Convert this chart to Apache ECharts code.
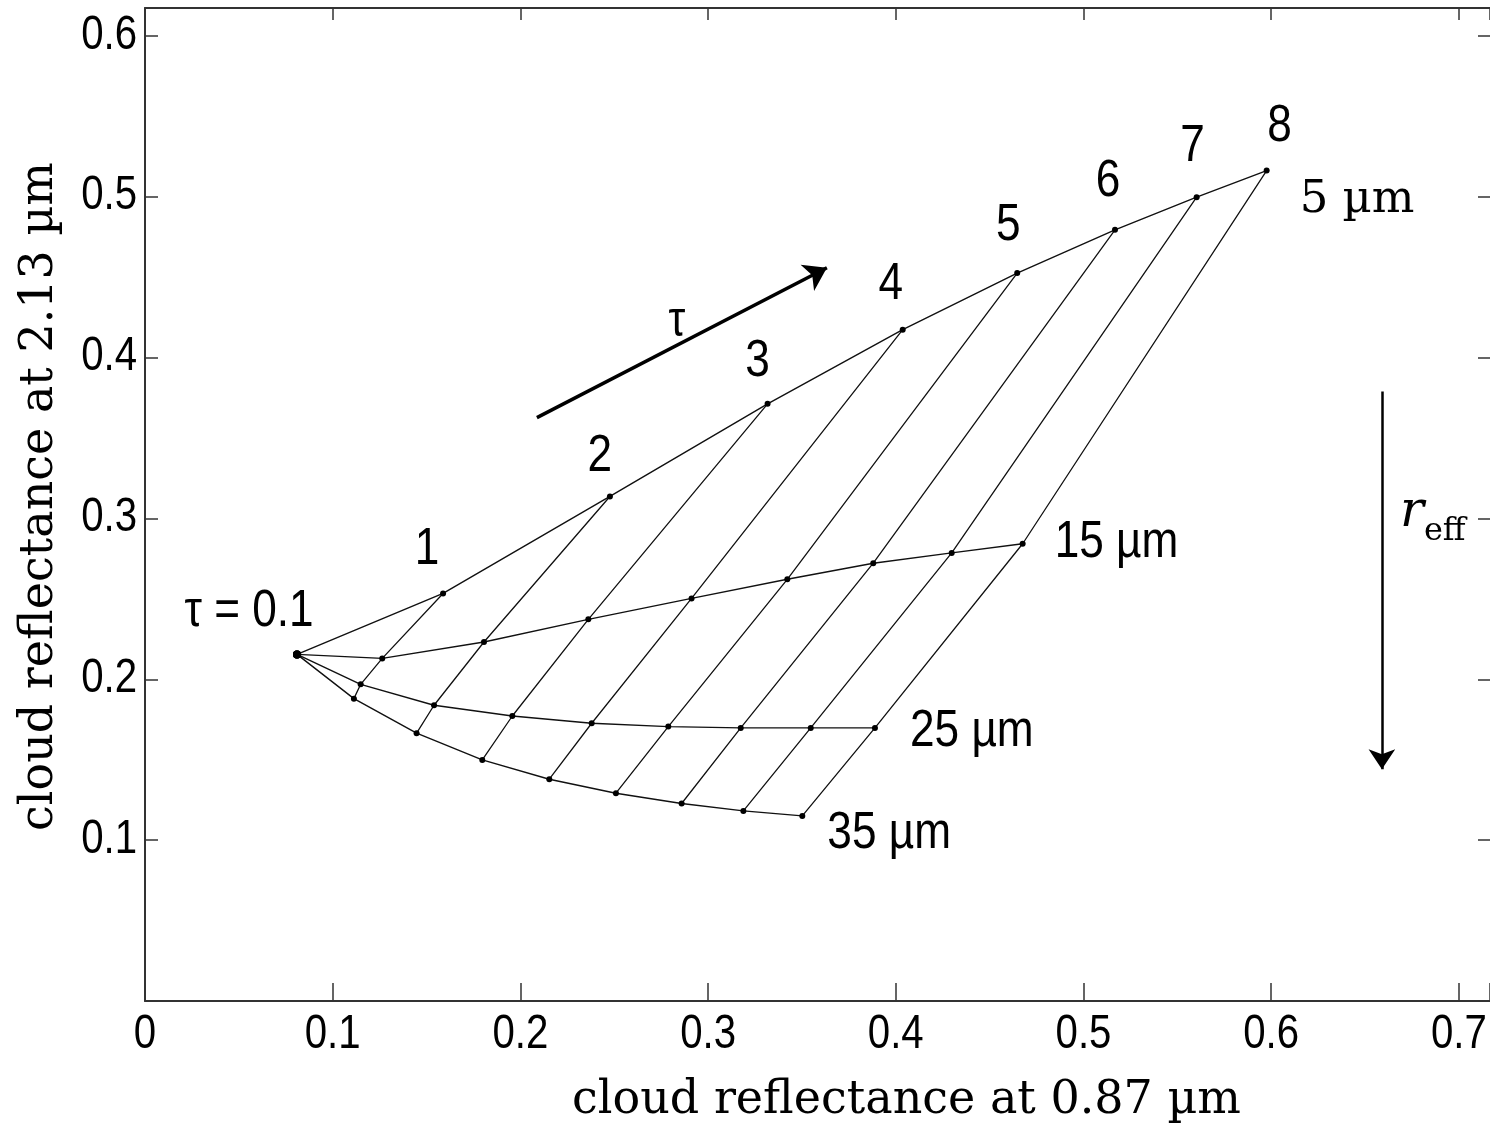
<!DOCTYPE html>
<html>
<head>
<meta charset="utf-8">
<script src="https://cdn.jsdelivr.net/npm/echarts@6/dist/echarts.min.js"></script>
<style>
  html, body { margin: 0; padding: 0; background: #fff; }
  #chart { width: 1490px; height: 1129px; }
</style>
</head>
<body>
<div id="chart"></div>
<script>
// Optical thickness values along each curve and effective radii (µm)
const tau = [0.1, 1, 2, 3, 4, 5, 6, 7, 8];
const reff = [5, 15, 25, 35];

// Cloud reflectance at 0.87 µm (x) and 2.13 µm (y) for each effective radius
const r087_5  = [0.081, 0.1588, 0.2477, 0.3317, 0.4037, 0.4647, 0.5168, 0.5603, 0.5976];
const r213_5  = [0.2155, 0.2534, 0.3137, 0.3713, 0.4174, 0.4526, 0.4795, 0.4998, 0.5163];
const r087_15 = [0.081, 0.1264, 0.1806, 0.2362, 0.2912, 0.3422, 0.3880, 0.4298, 0.4676];
const r213_15 = [0.2155, 0.2130, 0.2232, 0.2373, 0.2503, 0.2622, 0.2722, 0.2786, 0.2843];
const r087_25 = [0.081, 0.1149, 0.1540, 0.1957, 0.2380, 0.2788, 0.3174, 0.3547, 0.3889];
const r213_25 = [0.2155, 0.1969, 0.1839, 0.1772, 0.1727, 0.1706, 0.1698, 0.1698, 0.1698];
const r087_35 = [0.081, 0.1113, 0.1447, 0.1797, 0.2154, 0.2509, 0.2859, 0.3188, 0.3502];
const r213_35 = [0.2155, 0.1880, 0.1665, 0.1499, 0.1379, 0.1292, 0.1228, 0.1182, 0.1151];

// Axis tick labels
const xTicks = [0, 0.1, 0.2, 0.3, 0.4, 0.5, 0.6, 0.7];
const yTicks = [0.1, 0.2, 0.3, 0.4, 0.5, 0.6];

// Direction arrows (increasing tau, increasing r_eff)
const tauArrow  = [[0.2088, 0.3627], [0.3633, 0.4559]];
const reffArrow = [[0.659, 0.3789], [0.659, 0.1441]];

const curvesX = [r087_5, r087_15, r087_25, r087_35];
const curvesY = [r213_5, r213_15, r213_25, r213_35];

const SANS = '"Liberation Sans", Arial, Helvetica, sans-serif';
const SERIF = '"DejaVu Serif", "Liberation Serif", serif';
const INK = '#111';
const NARROW = 0.85;      // horizontal squeeze for the sans-serif annotation text
const NARROW_TICK = 0.82; // same for the tick labels

// pixel offsets of the tau numbers above the 5 µm curve
const tauLabelOffset = [[-16, -44], [-10, -40], [-10, -42], [-12, -45], [-9, -47], [-7, -48], [-4, -50], [13, -44]];
// pixel offsets of the r_eff names from the end of each curve
const reffLabelOffset = [[33, 30], [32, -1], [35, 4], [25, 18]];

const fmt = v => (Math.abs(v) < 1e-9 ? '0' : String(+v.toFixed(1)));

const series = [];

// curves of constant effective radius
curvesX.forEach((xs, i) => {
  series.push({
    type: 'line',
    name: reff[i] + ' µm',
    data: xs.map((x, j) => (j === 0 ? { value: [x, curvesY[i][j]], symbolSize: 8 } : [x, curvesY[i][j]])),
    symbol: 'circle',
    symbolSize: 6,
    showSymbol: true,
    itemStyle: { color: '#000' },
    lineStyle: { color: INK, width: 1.4 },
    z: 3,
    silent: true
  });
});

// lines of constant optical thickness
tau.forEach((t, j) => {
  if (j === 0) return;
  series.push({
    type: 'line',
    name: 'tau ' + t,
    data: curvesX.map((xs, i) => [xs[j], curvesY[i][j]]),
    symbol: 'none',
    lineStyle: { color: INK, width: 1.3 },
    z: 2,
    silent: true
  });
});

// direction arrows
series.push({
  type: 'lines',
  coordinateSystem: 'cartesian2d',
  symbol: ['none', 'arrow'],
  symbolSize: 22,
  silent: true,
  lineStyle: { color: '#000', width: 3.5, opacity: 1 },
  data: [{ coords: tauArrow }],
  z: 5
});
series.push({
  type: 'lines',
  coordinateSystem: 'cartesian2d',
  symbol: ['none', 'arrow'],
  symbolSize: 20,
  silent: true,
  lineStyle: { color: '#000', width: 2.5, opacity: 1 },
  data: [{ coords: reffArrow }],
  z: 5
});

const axisLine = { show: true, onZero: false, lineStyle: { color: '#333', width: 2 } };
const tickStyle = { color: '#333', width: 1.5 };
const X_MAX = 0.7166;
const Y_MAX = 0.6174;

const option = {
  animation: false,
  backgroundColor: '#fff',
  grid: { left: 145, top: 8, right: 0, bottom: 127, containLabel: false },
  xAxis: [{
    type: 'value',
    position: 'bottom',
    min: xTicks[0],
    max: X_MAX,
    interval: 0.1,
    axisLine,
    axisTick: { show: true, inside: true, length: 18, lineStyle: tickStyle },
    axisLabel: { show: false },
    splitLine: { show: false },
    name: 'cloud reflectance at 0.87 µm',
    nameLocation: 'middle',
    nameGap: 77,
    nameTextStyle: { fontFamily: SERIF, fontSize: 46, color: '#000', padding: [0, 0, 0, 178] }
  }, {
    type: 'value',
    position: 'top',
    min: xTicks[0],
    max: X_MAX,
    interval: 0.1,
    axisLine,
    axisTick: { show: true, inside: true, length: 12, lineStyle: tickStyle },
    axisLabel: { show: false },
    splitLine: { show: false }
  }],
  yAxis: [{
    type: 'value',
    position: 'left',
    min: 0,
    max: Y_MAX,
    interval: 0.1,
    axisLine,
    axisTick: { show: true, inside: true, length: 13, lineStyle: tickStyle },
    axisLabel: { show: false },
    splitLine: { show: false },
    name: 'cloud reflectance at 2.13 µm',
    nameLocation: 'middle',
    nameGap: 82,
    nameRotate: 90,
    nameTextStyle: { fontFamily: SERIF, fontSize: 46, color: '#000', padding: [0, 0, 0, 16] }
  }, {
    type: 'value',
    position: 'right',
    min: 0,
    max: Y_MAX,
    interval: 0.1,
    axisLine: { show: false, onZero: false },
    axisTick: { show: true, inside: true, length: 12, lineStyle: tickStyle },
    axisLabel: { show: false },
    splitLine: { show: false }
  }],
  series
};

const chart = echarts.init(document.getElementById('chart'), null, { renderer: 'canvas' });
chart.setOption(option);

// ---- text drawn on top of the plot, anchored to data coordinates ----
const toPx = (x, y) => chart.convertToPixel({ seriesIndex: 0 }, [x, y]);

function txt(text, pos, opts) {
  return {
    type: 'text',
    x: pos[0],
    y: pos[1],
    scaleX: opts.scaleX == null ? 1 : opts.scaleX,
    silent: true,
    z: 100,
    style: {
      text,
      fill: '#000',
      fontFamily: opts.family || SANS,
      fontSize: opts.size,
      fontStyle: opts.style || 'normal',
      align: opts.align || 'center',
      textAlign: opts.align || 'center',
      verticalAlign: 'middle',
      textVerticalAlign: 'middle'
    }
  };
}

const g = [];

// tick labels
const axisY0 = toPx(0, 0)[1];
const axisX0 = toPx(0, 0)[0];
xTicks.forEach(t => {
  g.push(txt(fmt(t), [toPx(t, 0)[0], axisY0 + 33], { size: 49, scaleX: NARROW_TICK }));
});
yTicks.forEach(t => {
  g.push(txt(fmt(t), [axisX0 - 8, toPx(0, t)[1] - 1], { size: 49, scaleX: NARROW_TICK, align: 'right' }));
});

// tau numbers along the 5 µm curve
tau.forEach((t, j) => {
  if (j === 0) return;
  const p = toPx(r087_5[j], r213_5[j]);
  const o = tauLabelOffset[j - 1];
  g.push(txt(String(t), [p[0] + o[0], p[1] + o[1]], { size: 52, scaleX: NARROW }));
});

// tau = 0.1 at the common starting point
{
  const p = toPx(r087_5[0], r213_5[0]);
  g.push(txt('τ = ' + tau[0], [p[0] - 48, p[1] - 43], { size: 52, scaleX: NARROW }));
}

// r_eff names at the ends of the curves
curvesX.forEach((xs, i) => {
  const n = xs.length - 1;
  const p = toPx(xs[n], curvesY[i][n]);
  const o = reffLabelOffset[i];
  if (i === 0) {
    g.push(txt(reff[i] + ' µm', [p[0] + o[0], p[1] + o[1]], { size: 45, family: SERIF, align: 'left' }));
  } else {
    g.push(txt(reff[i] + ' µm', [p[0] + o[0], p[1] + o[1]], { size: 52, scaleX: NARROW, align: 'left' }));
  }
});

// arrow captions
{
  const a = toPx(tauArrow[0][0], tauArrow[0][1]);
  const b = toPx(tauArrow[1][0], tauArrow[1][1]);
  g.push(txt('τ', [(a[0] + b[0]) / 2 - 5, (a[1] + b[1]) / 2 - 20], { size: 50, scaleX: NARROW }));
  const r = toPx(reffArrow[0][0], reffArrow[0][1]);
  g.push(txt('r', [r[0] + 18, r[1] + 121], { size: 50, family: SERIF, style: 'italic', align: 'left' }));
  g.push(txt('eff', [r[0] + 42, r[1] + 140], { size: 32, family: SERIF, align: 'left' }));
}

chart.setOption({ graphic: { elements: g } });
</script>
</body>
</html>
